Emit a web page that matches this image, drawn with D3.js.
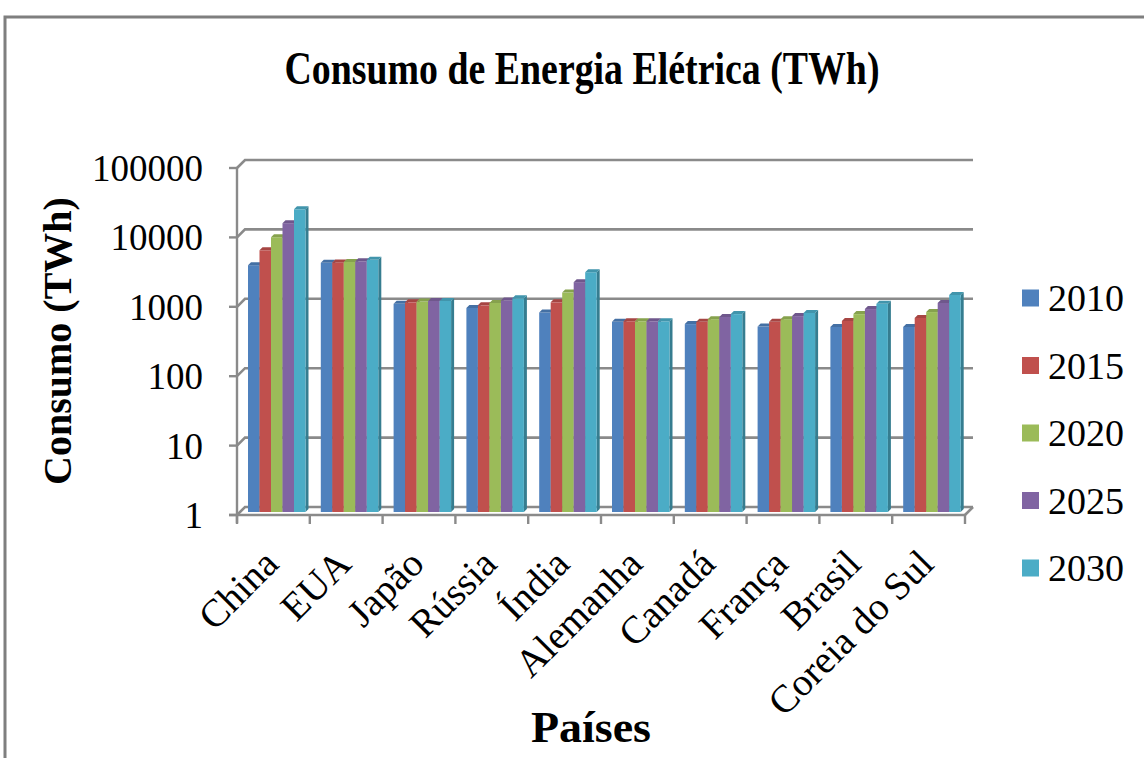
<!DOCTYPE html>
<html>
<head>
<meta charset="utf-8">
<script src="https://cdn.jsdelivr.net/npm/d3@7"></script>
<style>
  body { margin: 0; background: #fff; }
  svg { display: block; }
  text { font-family: "Liberation Serif", "Times New Roman", serif; fill: #000; }
</style>
</head>
<body>
<svg id="chart" width="1144" height="758"></svg>
<script>
// Electricity consumption (TWh) per country and projection year
const categories = ["China", "EUA", "Japão", "Rússia", "Índia", "Alemanha", "Canadá", "França", "Brasil", "Coreia do Sul"];
const years = ["2010", "2015", "2020", "2025", "2030"];
const v2010 = [3600, 3900, 1000, 870, 750, 550, 510, 470, 465, 465];
const v2015 = [5900, 3950, 1050, 950, 1050, 560, 550, 550, 565, 625];
const v2020 = [9100, 4000, 1080, 1030, 1450, 560, 600, 600, 710, 760];
const v2025 = [14500, 4100, 1100, 1120, 2050, 560, 645, 665, 840, 1030];
const v2030 = [23000, 4300, 1100, 1200, 2850, 560, 710, 740, 1000, 1340];
const yTicks = [1, 10, 100, 1000, 10000, 100000];
const colors = ["#4F81BD", "#C0504D", "#9BBB59", "#8064A2", "#4BACC6"];

const seriesValues = [v2010, v2015, v2020, v2025, v2030];

const svg = d3.select("#chart");

// outer chart frame
svg.append("rect")
  .attr("x", 5).attr("y", 17).attr("width", 1170).attr("height", 800)
  .attr("fill", "none").attr("stroke", "#7f7f7f").attr("stroke-width", 3);

// plot geometry (front plane of the 3D box)
const x0 = 237, x1 = 965, yBase = 515, yTop = 168;
const wall = 8;      // depth offset of the back wall
const barShift = 3;  // depth offset of the bar fronts

const y = d3.scaleLog().domain([1, 100000]).range([yBase, yTop]);
const x = d3.scaleBand().domain(categories).range([x0, x1]);
const xs = d3.scaleBand().domain(years).range([11, 68.5]);

const gridColor = "#8a8a8a";

// back wall gridlines with their left-wall diagonals
const grid = svg.append("g").attr("fill", "none").attr("stroke", gridColor).attr("stroke-width", 2.6);
yTicks.forEach(v => {
  const p = d3.path();
  p.moveTo(x0, y(v));
  p.lineTo(x0 + wall, y(v) - wall);
  p.lineTo(x1 + wall, y(v) - wall);
  grid.append("path").attr("d", p.toString());
});
// floor right edge
grid.append("path").attr("d", `M${x1},${yBase}L${x1 + wall},${yBase - wall}`);

// front axes
const axes = svg.append("g").attr("stroke", gridColor).attr("stroke-width", 2.4).attr("fill", "none");
axes.append("line").attr("x1", x0).attr("x2", x0).attr("y1", y(100000)).attr("y2", yBase + 8);
axes.append("line").attr("x1", x0 - 8).attr("x2", x1).attr("y1", yBase).attr("y2", yBase);
yTicks.forEach(v => {
  axes.append("line").attr("x1", x0 - 8).attr("x2", x0).attr("y1", y(v)).attr("y2", y(v));
});
const bounds = categories.map(c => x(c)).concat([x1]);
bounds.forEach(b => {
  axes.append("line").attr("x1", b).attr("x2", b).attr("y1", yBase).attr("y2", yBase + 9);
});

// 3D bars, painted left to right so each bar hides its neighbour's side
const bw = xs.bandwidth();
const d = 3;
const bars = svg.append("g");
categories.forEach((c, ci) => {
  years.forEach((yr, si) => {
    const v = seriesValues[si][ci];
    const bx = x(c) + xs(yr);
    const top = y(v) - barShift;
    const bottom = yBase - barShift;
    const base = d3.color(colors[si]);
    // side face
    bars.append("path")
      .attr("d", `M${bx + bw},${top}L${bx + bw + d},${top - d}L${bx + bw + d},${bottom - d}L${bx + bw},${bottom}Z`)
      .attr("fill", base.darker(0.9).formatHex());
    // front face
    bars.append("rect")
      .attr("x", bx).attr("y", top).attr("width", bw).attr("height", bottom - top)
      .attr("fill", colors[si]);
    // top face
    bars.append("path")
      .attr("d", `M${bx},${top}L${bx + d},${top - d}L${bx + bw + d},${top - d}L${bx + bw},${top}Z`)
      .attr("fill", base.darker(0.4).formatHex());
  });
});

// y tick labels
svg.append("g").selectAll("text").data(yTicks).join("text")
  .attr("x", 203).attr("y", v => y(v)).attr("dy", "0.35em")
  .attr("text-anchor", "end").attr("font-size", 37)
  .text(v => String(v));

// x category labels
svg.append("g").selectAll("text").data(categories).join("text")
  .attr("transform", c => `translate(${x(c) + x.bandwidth() / 2 + 7},566) rotate(-45)`)
  .attr("text-anchor", "end").attr("font-size", 39)
  .text(c => c);

// legend
const legend = svg.append("g");
years.forEach((yr, i) => {
  const cy = 298 + i * 67.5;
  legend.append("rect").attr("x", 1022).attr("y", cy - 8.5).attr("width", 17).attr("height", 17).attr("fill", colors[i]);
  legend.append("text").attr("x", 1048).attr("y", cy).attr("dy", "0.35em").attr("font-size", 38).text(yr);
});

// titles
svg.append("text")
  .attr("x", 582).attr("y", 84).attr("text-anchor", "middle")
  .attr("font-size", 46).attr("font-weight", "bold")
  .attr("textLength", 595).attr("lengthAdjust", "spacingAndGlyphs")
  .text("Consumo de Energia Elétrica (TWh)");

svg.append("text")
  .attr("transform", "translate(71,341) rotate(-90)")
  .attr("text-anchor", "middle").attr("font-size", 40).attr("font-weight", "bold")
  .text("Consumo (TWh)");

svg.append("text")
  .attr("x", 591).attr("y", 742).attr("text-anchor", "middle")
  .attr("font-size", 44).attr("font-weight", "bold")
  .attr("textLength", 120).attr("lengthAdjust", "spacingAndGlyphs")
  .text("Países");
</script>
</body>
</html>
